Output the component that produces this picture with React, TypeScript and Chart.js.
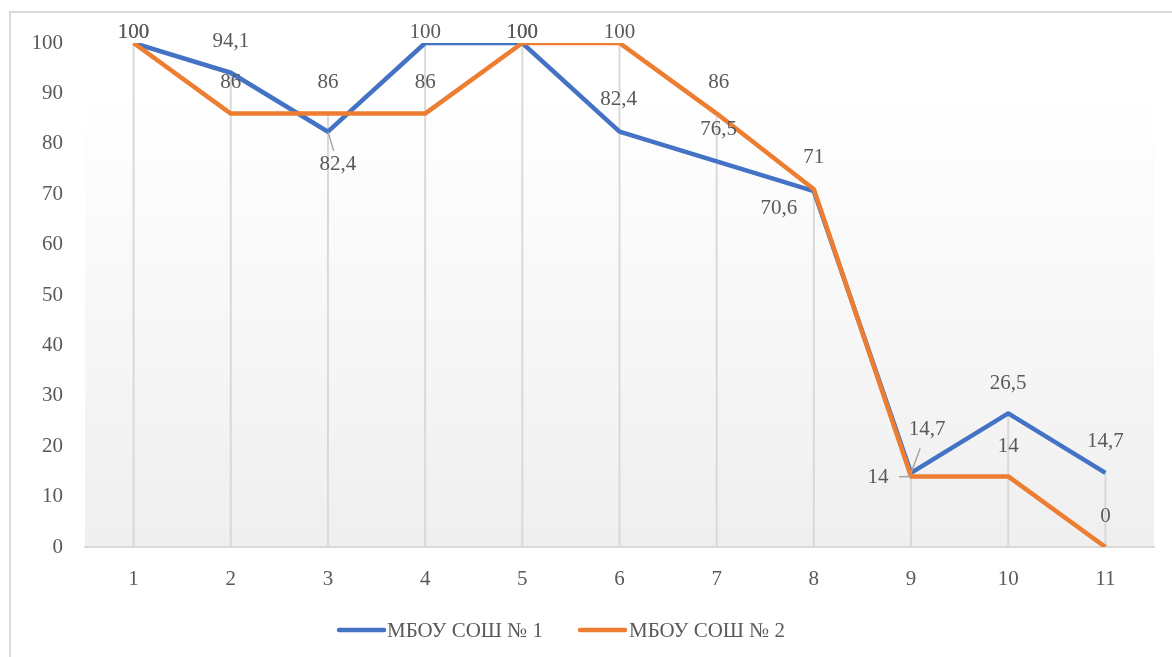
import React, { useEffect, useRef } from "react";
import { Chart, registerables } from "chart.js";

Chart.register(...registerables);

const categories = ["1", "2", "3", "4", "5", "6", "7", "8", "9", "10", "11"];
const school1Label = "МБОУ СОШ № 1";
const school2Label = "МБОУ СОШ № 2";
const school1 = [100, 94.1, 82.4, 100, 100, 82.4, 76.5, 70.6, 14.7, 26.5, 14.7];
const school2 = [100, 86, 86, 86, 100, 100, 86, 71, 14, 14, 0];
const yTicks = [0, 10, 20, 30, 40, 50, 60, 70, 80, 90, 100];

// label placement (style only): [dx, dy, leader]
const labelOffsets1: [number, number, boolean][] = [
  [0, -11, false], [0, -31, false], [10, 33, true], [0, -11, false], [0, -11, false],
  [-1, -32, false], [2, -32, false], [-35, 17, false], [16, -43, true], [0, -30, false], [0, -31, false],
];
const labelOffsets2: [number, number, boolean][] = [
  [0, -11, false], [0, -31, false], [0, -31, false], [0, -31, false], [0, -11, false],
  [0, -11, false], [2, -31, false], [0, -32, false], [-33, 1, true], [0, -30, false], [0, -31, false],
];

const BLUE = "#4472C4";
const ORANGE = "#ED7D31";
const TEXT = "#595959";
const FONT = "'Liberation Serif', 'Times New Roman', serif";
const FS = 21;

const fmt = (v: number) => String(v).replace(".", ",");

const decorPlugin = {
  id: "decor",
  beforeDraw(chart: any) {
    const { ctx, chartArea } = chart;
    ctx.save();
    ctx.fillStyle = "#ffffff";
    ctx.fillRect(0, 0, chart.width, chart.height);
    ctx.strokeStyle = "#d9d9d9";
    ctx.lineWidth = 2;
    ctx.beginPath();
    ctx.moveTo(10, chart.height);
    ctx.lineTo(10, 12);
    ctx.lineTo(chart.width, 12);
    ctx.stroke();
    const g = ctx.createLinearGradient(0, chartArea.top, 0, chartArea.bottom);
    g.addColorStop(0, "#ffffff");
    g.addColorStop(0.1, "#ffffff");
    g.addColorStop(1, "#efefef");
    ctx.fillStyle = g;
    ctx.fillRect(chartArea.left, chartArea.top, chartArea.right - chartArea.left, chartArea.bottom - chartArea.top);
    ctx.restore();
  },
  beforeDatasetsDraw(chart: any) {
    const { ctx } = chart;
    const xs = chart.scales.x;
    const ys = chart.scales.y;
    ctx.save();
    ctx.strokeStyle = "#d9d9d9";
    ctx.lineWidth = 2;
    categories.forEach((_, i) => {
      const m = Math.max(school1[i], school2[i]);
      const x = xs.getPixelForValue(i);
      ctx.beginPath();
      ctx.moveTo(x, ys.getPixelForValue(m));
      ctx.lineTo(x, ys.getPixelForValue(0));
      ctx.stroke();
    });
    ctx.restore();
  },
  afterDatasetsDraw(chart: any) {
    const { ctx } = chart;
    const xs = chart.scales.x;
    const ys = chart.scales.y;
    ctx.save();
    ctx.font = `${FS}px ${FONT}`;
    ctx.fillStyle = TEXT;
    ctx.textAlign = "center";
    ctx.textBaseline = "middle";
    const drawSeries = (data: number[], offs: [number, number, boolean][]) => {
      data.forEach((v, i) => {
        const x = xs.getPixelForValue(i);
        const y = ys.getPixelForValue(v);
        const [dx, dy, leader] = offs[i];
        const lx = x + dx;
        const ly = y + dy;
        if (leader) {
          ctx.strokeStyle = "#a6a6a6";
          ctx.lineWidth = 1.5;
          ctx.beginPath();
          ctx.moveTo(x, y);
          const len = Math.hypot(dx, dy);
          const stop = dx < 0 && Math.abs(dy) < 5 ? 12 : (dy > 0 ? 20 : 26);
          ctx.lineTo(x + (dx * stop) / len, y + (dy * stop) / len);
          ctx.stroke();
        }
        ctx.fillText(fmt(v), lx, ly);
      });
    };
    drawSeries(school1, labelOffsets1);
    drawSeries(school2, labelOffsets2);

    const ly = 630;
    const items = [
      { label: school1Label, color: BLUE, x0: 339, x1: 384, tx: 387 },
      { label: school2Label, color: ORANGE, x0: 580, x1: 625, tx: 629 },
    ];
    items.forEach((it) => {
      ctx.strokeStyle = it.color;
      ctx.lineWidth = 4.5;
      ctx.lineCap = "round";
      ctx.beginPath();
      ctx.moveTo(it.x0, ly);
      ctx.lineTo(it.x1, ly);
      ctx.stroke();
      ctx.textAlign = "left";
      ctx.fillStyle = TEXT;
      ctx.fillText(it.label, it.tx, ly + 1);
    });
    ctx.restore();
  },
};

export default function App() {
  const ref = useRef<HTMLCanvasElement | null>(null);
  useEffect(() => {
    if (!ref.current) return;
    const chart = new Chart(ref.current, {
      type: "line",
      data: {
        labels: categories,
        datasets: [
          {
            label: school1Label,
            data: school1,
            borderColor: BLUE,
            backgroundColor: BLUE,
            borderWidth: 4.5,
            pointRadius: 0,
            tension: 0,
            borderJoinStyle: "round",
            order: 1,
          },
          {
            label: school2Label,
            data: school2,
            borderColor: ORANGE,
            backgroundColor: ORANGE,
            borderWidth: 4.5,
            pointRadius: 0,
            tension: 0,
            borderJoinStyle: "round",
            order: 0,
          },
        ],
      },
      options: {
        responsive: false,
        animation: false,
        devicePixelRatio: 1,
        layout: { padding: { left: 0, right: 18, top: 43, bottom: 0 } },
        plugins: { legend: { display: false }, tooltip: { enabled: false } },
        scales: {
          x: {
            offset: true,
            grid: { display: false, drawTicks: false },
            border: { display: true, color: "#d9d9d9", width: 2 },
            ticks: { color: TEXT, font: { family: FONT, size: FS }, padding: 20, maxRotation: 0 },
            afterFit: (s: any) => { s.height = 110; },
          },
          y: {
            min: 0,
            max: 100,
            grid: { display: false, drawTicks: false },
            border: { display: false },
            afterBuildTicks: (s: any) => { s.ticks = yTicks.map((v) => ({ value: v })); },
            ticks: { color: TEXT, font: { family: FONT, size: FS }, padding: 22 },
            afterFit: (s: any) => { s.width = 85; },
          },
        },
      },
      plugins: [decorPlugin],
    });
    return () => chart.destroy();
  }, []);
  return (
    <div style={{ position: "fixed", left: 0, top: 0, width: 1172, height: 657, background: "#fff" }}>
      <canvas ref={ref} width={1172} height={657} style={{ display: "block" }} />
    </div>
  );
}
